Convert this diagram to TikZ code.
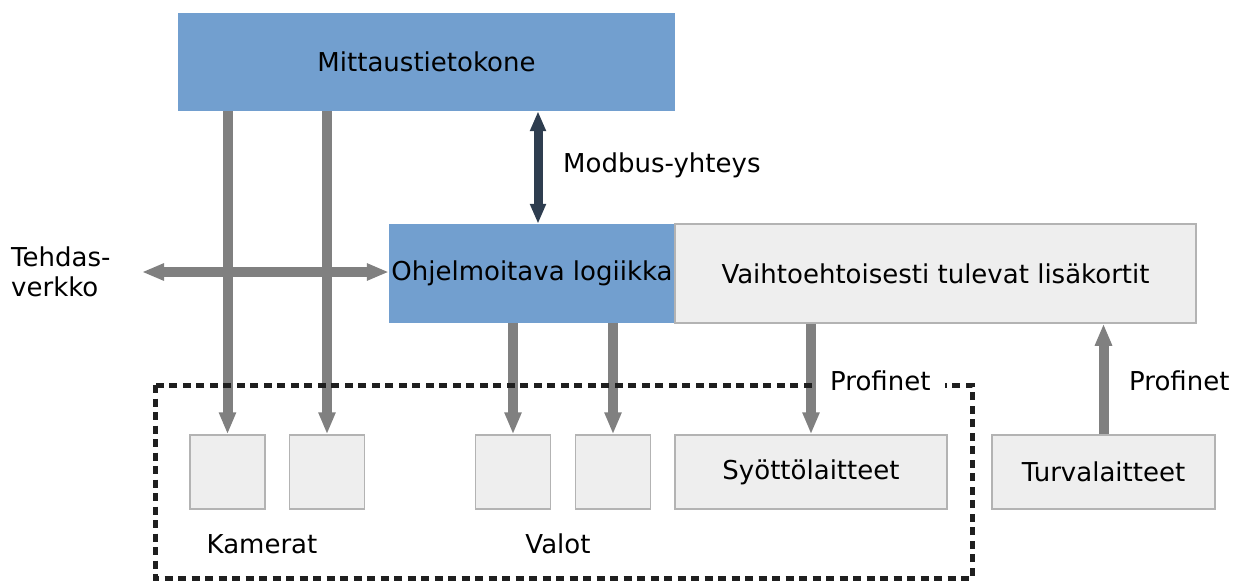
\documentclass[tikz,border=0pt]{standalone}
\usepackage{fontspec}
\setmainfont{DejaVu Sans}
\usetikzlibrary{arrows.meta,calc}
\definecolor{boxblue}{HTML}{729FCF}
\definecolor{boxgray}{HTML}{EEEEEE}
\definecolor{boxline}{HTML}{B3B3B3}
\definecolor{linkgray}{HTML}{808080}
\definecolor{modbus}{HTML}{2E3D4F}
\tikzset{
  bluebox/.style={rectangle, fill=boxblue, inner sep=0pt},
  graybox/.style={rectangle, fill=boxgray, draw=boxline, line width=1.5pt, inner sep=0pt},
  devbox/.style={graybox, minimum width=75pt, minimum height=74pt},
  link/.style={draw=linkgray, line width=10pt, -{Triangle[width=16pt,length=22pt]}},
  dlink/.style={link, {Triangle[width=16pt,length=22pt]}-{Triangle[width=16pt,length=22pt]}},
  modlink/.style={draw=modbus, line width=9pt, {Triangle[width=15pt,length=20pt]}-{Triangle[width=15pt,length=20pt]}},
  txt/.style={inner sep=0pt},
  group/.style={draw=black!88, line width=5pt, dash pattern=on 8pt off 5.5pt},
}
\begin{document}
\begin{tikzpicture}[x=1pt, y=-1pt, font=\fontsize{26}{30}\selectfont]
\useasboundingbox (0,0) rectangle (1239,581);

% main blocks
\node[bluebox, minimum width=497pt, minimum height=98pt] (mitt) at (426.5,62) {Mittaustietokone};
\node[bluebox, minimum width=286pt, minimum height=99pt] (ohj) at (532,273.5) {Ohjelmoitava logiikka};
\node[graybox, minimum width=521pt, minimum height=99pt] (vaiht) at (935.5,273.5) {Vaihtoehtoisesti tulevat lisäkortit};

% field devices
\node[devbox] (cam1) at (227.5,472) {};
\node[devbox] (cam2) at (327,472) {};
\node[devbox] (valo1) at (513,472) {};
\node[devbox] (valo2) at (613,472) {};
\node[graybox, minimum width=272pt, minimum height=74pt] (syo) at (811,472) {Syöttölaitteet};
\node[graybox, minimum width=223pt, minimum height=74pt] (turva) at (1103.5,472) {Turvalaitteet};

% labels
\node[txt, anchor=west] (modlbl) at (563,165) {Modbus-yhteys};
\node[txt, anchor=west, align=left] (tehdas) at (11,272) {Tehdas-\\verkko};
\node[txt] (kamlbl) at (262,544) {Kamerat};
\node[txt] (valolbl) at (558,544) {Valot};
\node[txt, anchor=west] (prof2) at (1129,381) {Profinet};

% connections
\coordinate (netend) at (142,272);
\draw[dlink] (netend) -- (ohj.west |- netend);
\draw[link] (cam1.north |- mitt.south) -- (cam1.north);
\draw[link] (cam2.north |- mitt.south) -- (cam2.north);
\draw[link] (valo1.north |- ohj.south) -- (valo1.north);
\draw[link] (valo2.north |- ohj.south) -- (valo2.north);
\draw[link] (syo.north |- vaiht.south) -- (syo.north);
\draw[link] (turva.north) -- (turva.north |- vaiht.south);
\draw[modlink] ([xshift=6pt]ohj.north |- mitt.south) -- ([xshift=6pt]ohj.north);

% Profinet group, its top edge broken by the label
\draw[group] (155,385) rectangle (972,578);
\node[txt, anchor=west, fill=white, inner xsep=14pt, inner ysep=4pt] (prof1) at (816,381) {Profinet};
\end{tikzpicture}
\end{document}
